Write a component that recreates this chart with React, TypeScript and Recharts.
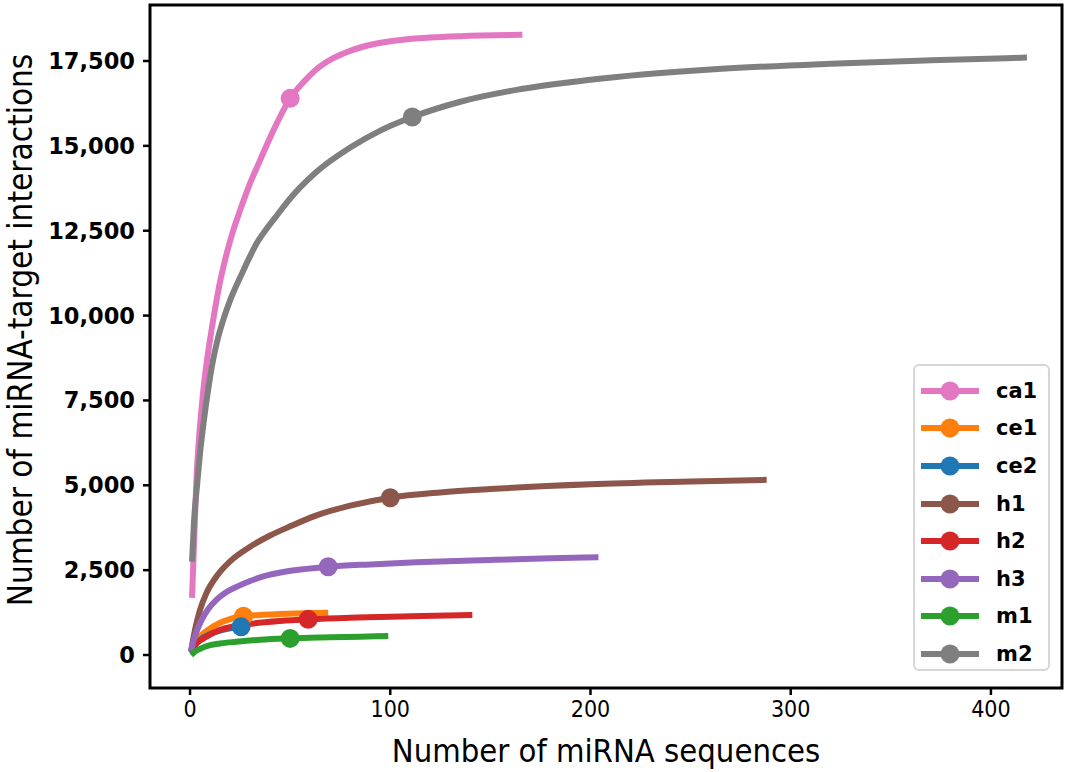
import React from 'react'
import { LineChart, Line, XAxis, YAxis, Legend, ReferenceArea } from 'recharts'

const ca1X = [1, 2, 3.3, 4.5, 5.5, 7, 8.5, 10, 12.5, 15, 17.5, 21, 25, 30, 35, 42, 50, 57, 63, 72, 80, 92, 105, 120, 135, 166]
const ca1Y = [1680, 3300, 5300, 6400, 7100, 8000, 8700, 9300, 10200, 11000, 11640, 12400, 13100, 13900, 14580, 15500, 16400, 16900, 17250, 17600, 17800, 18000, 18120, 18190, 18230, 18270]

const ce1X = [0.5, 2, 4, 8, 15, 20, 26.7, 35, 45, 57, 69]
const ce1Y = [100, 300, 480, 700, 950, 1060, 1140, 1180, 1205, 1228, 1245]

const ce2X = [0.5, 2, 5, 10, 15, 20, 25.5]
const ce2Y = [80, 250, 450, 620, 720, 790, 835]

const h1X = [0.5, 2, 3.5, 5, 8, 13, 20, 30, 40, 50, 62.5, 80, 100, 125, 150, 200, 250, 288]
const h1Y = [100, 600, 1000, 1330, 1800, 2300, 2760, 3190, 3520, 3790, 4100, 4400, 4635, 4790, 4890, 5030, 5110, 5160]

const h2X = [0.5, 1.5, 3, 6.7, 10, 15, 22, 31.7, 45, 59, 80, 110, 141]
const h2Y = [80, 200, 330, 490, 600, 740, 850, 930, 1000, 1050, 1100, 1140, 1180]

const h3X = [0.5, 2, 4, 6, 9, 13, 18, 24, 30, 38, 46, 57, 69, 90, 113, 150, 180, 204]
const h3Y = [100, 480, 800, 1060, 1350, 1620, 1850, 2030, 2180, 2340, 2440, 2530, 2600, 2670, 2730, 2800, 2850, 2880]

const m1X = [0.5, 2, 5, 10, 15, 23, 35, 50, 70, 85, 99]
const m1Y = [0, 80, 180, 290, 340, 390, 450, 490, 520, 540, 560]

const m2X = [1, 2, 3.5, 5, 7, 9, 11.5, 14, 17, 20, 22.5, 26, 30, 33.5, 37.5, 44, 50, 62.5, 80, 95, 111, 135, 163, 200, 260, 320, 370, 418]
const m2Y = [2750, 3950, 5000, 5950, 6950, 7800, 8690, 9350, 9950, 10450, 10800, 11250, 11750, 12150, 12500, 13000, 13450, 14200, 14950, 15450, 15850, 16300, 16650, 16950, 17250, 17420, 17520, 17600]

const seriesNames = ['ca1', 'ce1', 'ce2', 'h1', 'h2', 'h3', 'm1', 'm2']
const markerX = [50, 26.7, 25.5, 100, 59, 69, 50, 111]
const colors = ['#e377c2', '#ff7f0e', '#1f77b4', '#8c564b', '#d62728', '#9467bd', '#2ca02c', '#7f7f7f']

const xTicks = [0, 100, 200, 300, 400]
const yTicks = [0, 2500, 5000, 7500, 10000, 12500, 15000, 17500]

const xs = [ca1X, ce1X, ce2X, h1X, h2X, h3X, m1X, m2X]
const ys = [ca1Y, ce1Y, ce2Y, h1Y, h2Y, h3Y, m1Y, m2Y]

const series = seriesNames.map((name, i) => ({
  name,
  color: colors[i],
  marker: markerX[i],
  data: xs[i].map((x, j) => ({ x, y: ys[i][j] })),
}))

const X_DOMAIN: [number, number] = [-20, 435.5]
const Y_DOMAIN: [number, number] = [-972, 19150]
const LABEL_FONT = '"DejaVu Sans Condensed", "DejaVu Sans"'

function LegendBox() {
  return (
    <div
      style={{
        width: 137,
        height: 307,
        boxSizing: 'border-box',
        border: '2px solid #d6d6d6',
        borderRadius: 6,
        background: 'rgba(255,255,255,0.8)',
        paddingTop: 6,
      }}
    >
      {series.map((s) => (
        <div key={s.name} style={{ display: 'flex', alignItems: 'center', height: 37.6 }}>
          <svg width={76} height={24} style={{ flex: 'none' }}>
            <line x1={6} x2={64} y1={12} y2={12} stroke={s.color} strokeWidth={6} />
            <circle cx={35} cy={12} r={9.5} fill={s.color} />
          </svg>
          <span
            style={{
              fontFamily: '"DejaVu Sans"',
              fontWeight: 'bold',
              fontSize: 21,
              color: '#000',
              marginLeft: 5,
            }}
          >
            {s.name}
          </span>
        </div>
      ))}
    </div>
  )
}

export default function App() {
  return (
    <div style={{ position: 'absolute', left: 0, top: 0, background: '#fff' }}>
      <LineChart width={1072} height={772} margin={{ top: 5, right: 10, bottom: 0, left: 0 }}>
        <XAxis
          type='number'
          dataKey='x'
          domain={X_DOMAIN}
          ticks={xTicks}
          allowDataOverflow
          height={84}
          tickSize={7}
          tickLine={{ stroke: '#000', strokeWidth: 2.5 }}
          axisLine={false}
          tick={{ fill: '#000', fontSize: 23, fontFamily: LABEL_FONT }}
          tickMargin={6}
          label={{
            content: () => (
              <text x={606} y={762} textAnchor='middle' fontSize={32.5} fontFamily={LABEL_FONT} fill='#000'>
                Number of miRNA sequences
              </text>
            ),
          }}
        />
        <YAxis
          type='number'
          dataKey='y'
          domain={Y_DOMAIN}
          ticks={yTicks}
          allowDataOverflow
          width={150}
          tickSize={7}
          tickLine={{ stroke: '#000', strokeWidth: 2.5 }}
          axisLine={false}
          tick={{ fill: '#000', fontSize: 22.5, fontFamily: '"DejaVu Sans"', fontWeight: 'bold' }}
          tickMargin={8}
          tickFormatter={(v: number) => v.toLocaleString('en-US')}
          label={{
            content: () => (
              <text
                x={22}
                y={330}
                textAnchor='middle'
                dominantBaseline='middle'
                transform='rotate(-90, 22, 330)'
                fontSize={33}
                fontFamily={LABEL_FONT}
                fill='#000'
              >
                Number of miRNA-target interactions
              </text>
            ),
          }}
        />
        {series.map((s) => (
          <Line
            key={s.name}
            name={s.name}
            data={s.data}
            dataKey='y'
            type='monotone'
            stroke={s.color}
            strokeWidth={6}
            isAnimationActive={false}
            activeDot={false}
            dot={(p: any) =>
              p.payload.x === s.marker ? (
                <circle key={p.index} cx={p.cx} cy={p.cy} r={9.5} fill={s.color} stroke='none' />
              ) : (
                <g key={p.index} />
              )
            }
          />
        ))}
        <ReferenceArea
          x1={X_DOMAIN[0]}
          x2={X_DOMAIN[1]}
          y1={Y_DOMAIN[0]}
          y2={Y_DOMAIN[1]}
          fill='none'
          stroke='#000'
          strokeWidth={3}
          ifOverflow='visible'
        />
        <Legend
          layout='vertical'
          align='center'
          verticalAlign='middle'
          wrapperStyle={{ left: 913, top: 364, width: 137 }}
          content={() => <LegendBox />}
        />
      </LineChart>
    </div>
  )
}
